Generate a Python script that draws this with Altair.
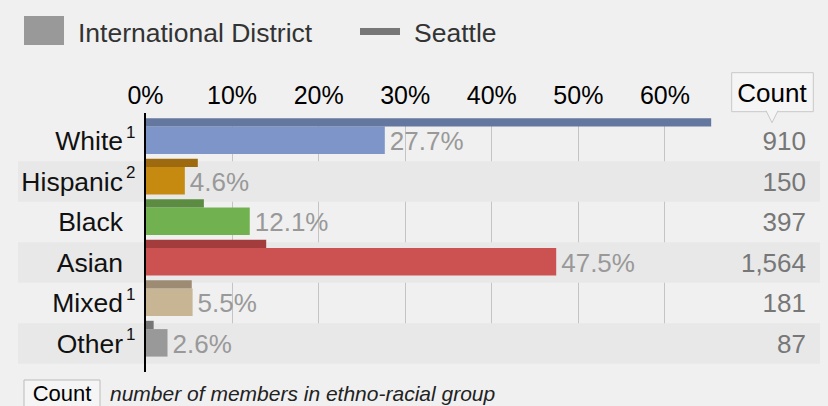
import altair as alt
import pandas as pd

categories = ["White", "Hispanic", "Black", "Asian", "Mixed", "Other"]
superscripts = ["1", "2", "", "", "1", "1"]
district_pct = [27.7, 4.6, 12.1, 47.5, 5.5, 2.6]
seattle_pct = [65.4, 6.1, 6.8, 14.0, 5.4, 1.0]
counts = [910, 150, 397, 1564, 181, 87]
district_colors = ["#7d95c8", "#c68a10", "#72b150", "#cc5252", "#c8b594", "#999999"]
seattle_colors = ["#64779f", "#9e6a10", "#5b8c42", "#a33d3d", "#9e8b74", "#777777"]
tick_values = [0, 10, 20, 30, 40, 50, 60]

FONT = "Liberation Sans"

df = pd.DataFrame({
    "cat": categories,
    "sup": superscripts,
    "district": district_pct,
    "seattle": seattle_pct,
    "count": counts,
    "cd": district_colors,
    "cs": seattle_colors,
    "label": [f"{v}%" for v in district_pct],
    "banded": [i % 2 == 1 for i in range(len(categories))],
})

yscale = alt.Scale(domain=categories, range=[5.3, 248.3], paddingInner=0, paddingOuter=0)
Y = alt.Y("cat:N", scale=yscale, axis=None, sort=categories)
xscale = alt.Scale(domain=[0, 70], nice=False)
xaxis = alt.Axis(orient="top", values=tick_values, labelExpr="datum.value + '%'",
                 grid=True, gridColor="#c4c4c4", gridWidth=1, domain=False, ticks=False,
                 labelFontSize=25, labelColor="#000000", labelFont=FONT,
                 labelPadding=5, labelFlush=False, title=None)

base = alt.Chart(df)

bands = base.transform_filter("datum.banded").mark_rect(
    color="#e8e8e8", yOffset=2.5, y2Offset=2.5
).encode(x=alt.value(-127), x2=alt.value(675), y=Y)

district = base.mark_bar(height=27.5, yOffset=1.8).encode(
    x=alt.X("district:Q", scale=xscale, axis=xaxis),
    y=Y,
    color=alt.Color("cd:N", scale=None),
)

seattle = base.mark_bar(height=8.3, yOffset=-16.1).encode(
    x=alt.X("seattle:Q", scale=xscale, axis=xaxis),
    y=Y,
    color=alt.Color("cs:N", scale=None),
)

zero = base.mark_rule(color="#000000", strokeWidth=2).encode(
    x=alt.X("zero:Q", scale=xscale, axis=xaxis), y=alt.value(0), y2=alt.value(259)
).transform_calculate(zero="0")

pct = base.mark_text(align="left", baseline="alphabetic", dx=5, yOffset=11.75,
                     fontSize=26, font=FONT, color="#999999").encode(
    x=alt.X("district:Q", scale=xscale, axis=xaxis), y=Y, text="label:N"
)

cat_labels = base.mark_text(align="right", baseline="alphabetic", yOffset=11.75,
                            fontSize=26.5, font=FONT, color="#111111").encode(
    x=alt.value(-22), y=Y, text="cat:N"
)

sup_labels = base.mark_text(align="left", baseline="alphabetic", yOffset=-0.75,
                            fontSize=17, font=FONT, color="#111111").encode(
    x=alt.value(-19), y=Y, text="sup:N"
)

count_labels = base.mark_text(align="right", baseline="alphabetic", yOffset=11.75,
                              fontSize=26, font=FONT, color="#777777").encode(
    x=alt.value(661), y=Y, text=alt.Text("count:Q", format=",")
)

one = alt.Chart(pd.DataFrame({"k": [0]}))

# header "Count" callout
head_box = one.mark_rect(fill="#f5f5f5", stroke="#c8c8c8", strokeWidth=1).encode(
    x=alt.value(586.7), x2=alt.value(668.3), y=alt.value(-40.3), y2=alt.value(-1.3)
)
head_ptr = one.mark_point(shape="M-1,-1L0,1L1,-1", size=144, filled=True, fill="#f5f5f5",
                          stroke="#c8c8c8", strokeWidth=1, opacity=1).encode(
    x=alt.value(627), y=alt.value(3.7)
)
head_text = one.mark_text(align="center", baseline="alphabetic", fontSize=26, font=FONT,
                          color="#000000", text="Count").encode(
    x=alt.value(627), y=alt.value(-11.3)
)

# legend
leg_sq = one.mark_rect(color="#999999").encode(
    x=alt.value(-121), x2=alt.value(-81), y=alt.value(-97), y2=alt.value(-68)
)
leg_t1 = one.mark_text(align="left", baseline="alphabetic", fontSize=26.5, font=FONT,
                       color="#333333", text="International District").encode(
    x=alt.value(-67), y=alt.value(-71)
)
leg_ln = one.mark_rect(color="#777777").encode(
    x=alt.value(215), x2=alt.value(255), y=alt.value(-85), y2=alt.value(-78)
)
leg_t2 = one.mark_text(align="left", baseline="alphabetic", fontSize=26.5, font=FONT,
                       color="#333333", text="Seattle").encode(
    x=alt.value(269), y=alt.value(-71)
)

# footer
foot_box = one.mark_rect(fill="#f5f5f5", stroke="#bbbbbb", strokeWidth=1).encode(
    x=alt.value(-121), x2=alt.value(-45), y=alt.value(267), y2=alt.value(300)
)
foot_t1 = one.mark_text(align="center", baseline="alphabetic", fontSize=22, font=FONT,
                        color="#000000", text="Count").encode(
    x=alt.value(-83), y=alt.value(288)
)
foot_t2 = one.mark_text(align="left", baseline="alphabetic", fontSize=21, font=FONT,
                        fontStyle="italic", color="#222222",
                        text="number of members in ethno-racial group").encode(
    x=alt.value(-35), y=alt.value(288)
)

chart = alt.layer(
    bands, district, seattle, zero, pct, cat_labels, sup_labels, count_labels,
    head_box, head_ptr, head_text, leg_sq, leg_t1, leg_ln, leg_t2,
    foot_box, foot_t1, foot_t2
).properties(
    width=606, height=257,
    autosize=alt.AutoSizeParams(type="none"),
    padding={"left": 145, "top": 113, "right": 77, "bottom": 36},
    background="#f0f0f0",
).configure(font=FONT, view=alt.ViewConfig(stroke=None))

chart.save("out.html", embed_options={"renderer": "svg", "actions": False})
